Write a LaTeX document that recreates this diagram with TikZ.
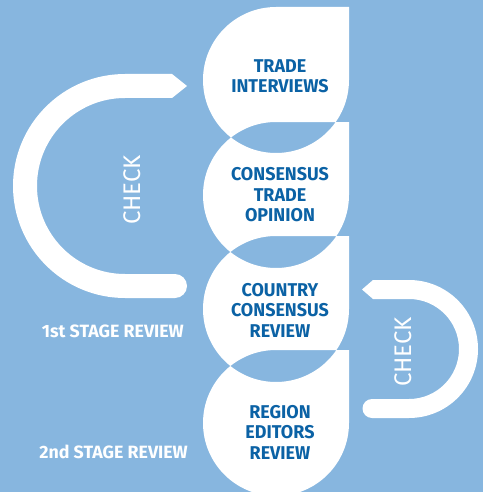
\documentclass[tikz,border=0pt]{standalone}
\usepackage{fontspec}
\setmainfont{Fira Sans}
\newfontfamily\boxfont{Fira Sans}[FakeStretch=0.97]
\newfontfamily\lightfont{Fira Sans}
\definecolor{bgblue}{HTML}{87B6DF}
\definecolor{txtblue}{HTML}{0B62A5}
\tikzset{
  steptext/.style={text=txtblue, font=\boxfont\bfseries\fontsize{18.5}{20.5}\selectfont, align=center, inner sep=0pt},
  checktext/.style={text=white, font=\lightfont\fontsize{24}{24}\selectfont, rotate=90, inner sep=0pt},
  stagetext/.style={text=white, font=\bfseries\fontsize{17.8}{17.8}\selectfont, anchor=east, inner sep=0pt},
}
\begin{document}
\begin{tikzpicture}[x=1pt,y=1pt]
\useasboundingbox (0,0) rectangle (483,-492);
\clip (0,0) rectangle (483,-492);
\fill[bgblue] (0,0) rectangle (483,-492);
% four drop shapes, overlaps left blue
\fill[white, even odd rule]
  (276,-7) -- (349,-7) -- (349,-80) arc[start angle=0,end angle=-270,radius=73] -- cycle
  (276,-122) -- (349,-122) -- (349,-195) arc[start angle=0,end angle=-270,radius=73] -- cycle
  (276,-236) -- (349,-236) -- (349,-309) arc[start angle=0,end angle=-270,radius=73] -- cycle
  (276,-350) -- (349,-350) -- (349,-423) arc[start angle=0,end angle=-270,radius=73] -- cycle;
% left check loop
\fill[white] (172,-74) -- (187,-86) -- (172,-98) -- (125,-98)
  arc[start angle=90,end angle=270,radius=88] -- (175,-274)
  arc[start angle=90,end angle=-90,radius=12] -- (125,-298)
  arc[start angle=270,end angle=90,radius=112] -- cycle;
% right check loop
\fill[white] (373,-280) -- (409,-280)
  arc[start angle=90,end angle=-90,radius=69] -- (372,-418)
  arc[start angle=270,end angle=90,radius=9.5] -- (409,-399)
  arc[start angle=-90,end angle=90,radius=50] -- (373,-299) -- (362,-289.5) -- cycle;
% texts
\node[steptext] (t1) at (280,-76) {TRADE\\INTERVIEWS};
\node[steptext] (t2) at (280,-195) {CONSENSUS\\TRADE\\OPINION};
\node[steptext] (t3) at (280,-310) {COUNTRY\\CONSENSUS\\REVIEW};
\node[steptext] (t4) at (280,-432) {REGION\\EDITORS\\REVIEW};
\node[checktext] (c1) at (132,-190) {CHECK};
\node[checktext] (c2) at (403,-352) {CHECK};
\node[stagetext] (l1) at (184,-331) {1st STAGE REVIEW};
\node[stagetext] (l2) at (188,-452) {2nd STAGE REVIEW};
\end{tikzpicture}
\end{document}
